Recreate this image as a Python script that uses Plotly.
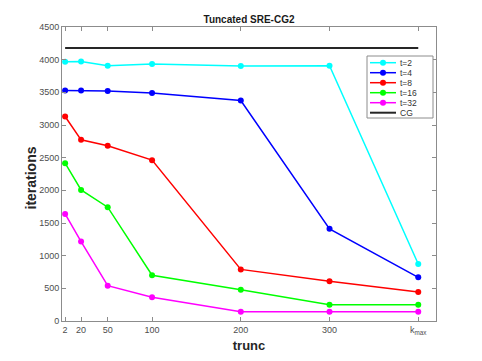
import plotly.graph_objects as go

KMAX = 400
TRUNC = [2, 20, 50, 100, 200, 300, KMAX]
TICK_TEXT = ["2", "20", "50", "100", "200", "300", "k<sub>max</sub>"]

T2 = [3968, 3973, 3907, 3933, 3902, 3907, 872]
T4 = [3528, 3528, 3519, 3489, 3375, 1411, 668]
T8 = [3130, 2773, 2681, 2462, 790, 607, 443]
T16 = [2416, 2007, 1742, 700, 479, 249, 249]
T32 = [1639, 1215, 541, 363, 143, 143, 143]
CG = 4180

SERIES = [
    ("t=2", T2, "#00ffff"),
    ("t=4", T4, "#0000ff"),
    ("t=8", T8, "#ff0000"),
    ("t=16", T16, "#00ff00"),
    ("t=32", T32, "#ff00ff"),
]
CG_COLOR = "#262626"
FONT = "Liberation Sans, Arial"

# the page body adds an 8px margin, so the figure is shrunk to fit the window
OFF = 8
W, H = 482 - OFF, 361 - OFF
ML, MR, MT, MB = 62 - OFF, 46, 27 - OFF, 40
PW, PH = W - ML - MR, H - MT - MB


def px(x):
    # window pixel -> paper x
    return (x - OFF - ML) / PW


def py(y):
    # window pixel -> paper y
    return (H + OFF - MB - y) / PH


fig = go.Figure()
for name, vals, color in SERIES:
    fig.add_trace(
        go.Scatter(
            x=TRUNC, y=vals, mode="lines+markers", name=name,
            line=dict(color=color, width=1.5),
            marker=dict(color=color, size=6),
        )
    )
fig.add_trace(
    go.Scatter(
        x=[TRUNC[0], TRUNC[-1]], y=[CG, CG], mode="lines", name="CG",
        line=dict(color=CG_COLOR, width=2),
    )
)

# compact MATLAB-like legend
fig.add_shape(type="rect", xref="paper", yref="paper",
              x0=px(367), x1=px(433), y0=py(118), y1=py(56),
              line=dict(color="#8c8c8c", width=1), fillcolor="white", layer="above")
entries = [(n, c, True) for n, _, c in SERIES] + [("CG", CG_COLOR, False)]
for i, (name, color, has_marker) in enumerate(entries):
    yy = py(62.7 + 10 * i)
    fig.add_shape(type="line", xref="paper", yref="paper",
                  x0=px(370), x1=px(396), y0=yy, y1=yy, layer="above",
                  line=dict(color=color, width=1.5 if has_marker else 2))
    if has_marker:
        fig.add_shape(type="circle", xref="paper", yref="paper",
                      xsizemode="pixel", ysizemode="pixel",
                      xanchor=px(383), yanchor=yy, x0=-3, x1=3, y0=-3, y1=3,
                      fillcolor=color, line=dict(color=color, width=0), layer="above")
    fig.add_annotation(text=name, xref="paper", yref="paper", x=px(397.5), y=yy,
                       xanchor="left", yanchor="middle", showarrow=False,
                       font=dict(family=FONT, size=8.5, color="#333"))

# y title as an annotation so it sits exactly where the original has it
fig.add_annotation(text="<b>iterations</b>", xref="paper", yref="paper",
                   x=px(30), y=py(178.5), textangle=-90, showarrow=False,
                   xanchor="center", yanchor="middle",
                   font=dict(family=FONT, size=14, color="#262626"))

axis_style = dict(
    showline=True, linecolor="#8c8c8c", linewidth=1, mirror="ticks",
    ticks="inside", ticklen=4, tickcolor="#8c8c8c",
    showgrid=False, zeroline=False, automargin=False,
    tickfont=dict(family=FONT, size=9, color="#4d4d4d"),
)

fig.update_layout(
    width=W, height=H,
    margin=dict(l=ML, r=MR, t=MT, b=MB, autoexpand=False),
    paper_bgcolor="white", plot_bgcolor="white",
    showlegend=False,
    title=dict(
        text="<b>Tuncated SRE-CG2</b>", x=0.5, xanchor="center",
        xref="paper", y=1 - (19.5 - OFF) / H, yanchor="middle",
        font=dict(family=FONT, size=10, color="#1a1a1a"),
    ),
)
fig.update_xaxes(
    range=[-1.5, 420], tickvals=TRUNC, ticktext=TICK_TEXT,
    title=dict(text="<b>trunc</b>", standoff=6,
               font=dict(family=FONT, size=13, color="#262626")),
    **axis_style,
)
fig.update_yaxes(range=[0, 4500], dtick=500, **axis_style)

fig.write_html("out.html")
